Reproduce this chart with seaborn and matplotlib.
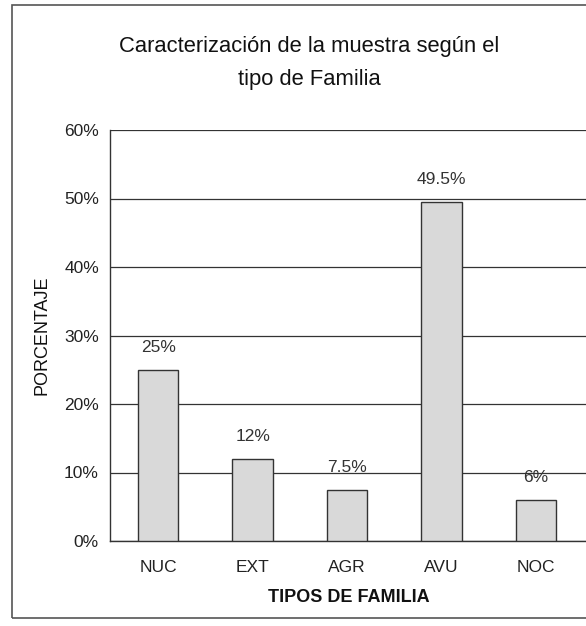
import matplotlib
matplotlib.use('Agg')
import matplotlib.pyplot as plt
import seaborn as sns
import pandas as pd
from matplotlib.patches import Rectangle
from matplotlib.ticker import FixedLocator

tipos = ['NUC', 'EXT', 'AGR', 'AVU', 'NOC']
porcentaje = [25, 12, 7.5, 49.5, 6]
etiquetas = ['25%', '12%', '7.5%', '49.5%', '6%']
yticks = [0, 10, 20, 30, 40, 50, 60]

sns.set_style('white')
plt.rcParams['font.family'] = ['Liberation Sans', 'DejaVu Sans']

df = pd.DataFrame({'tipo': tipos, 'pct': porcentaje})

fig = plt.figure(figsize=(5.86, 6.26), dpi=100)
ax = fig.add_axes([110 / 586, 85 / 626, 478 / 586, 411 / 626])

sns.barplot(data=df, x='tipo', y='pct', color='#d9d9d9', edgecolor='#333333',
            linewidth=1, width=0.43, ax=ax, saturation=1, zorder=3)

ax.set_ylim(0, 60)
ax.set_xlim(-0.51, 4.55)
ax.set_yticks(yticks)
ax.set_yticklabels([f'{v}%' for v in yticks])
ax.yaxis.grid(True, color='#333333', linewidth=0.9, zorder=0)
ax.set_axisbelow(True)

for s in ['top', 'right']:
    ax.spines[s].set_visible(False)
for s in ['left', 'bottom']:
    ax.spines[s].set_color('#333333')
    ax.spines[s].set_linewidth(1)

ax.tick_params(axis='x', length=0, pad=14, labelsize=12.5, labelcolor='#222222')
ax.xaxis.set_minor_locator(FixedLocator([0.5, 1.5, 2.5, 3.5]))
ax.tick_params(axis='x', which='minor', length=5, color='#333333', direction='out')
ax.tick_params(axis='y', length=5, color='#333333', direction='out', labelsize=12.5,
               labelcolor='#222222', pad=3)

for i, (v, lab) in enumerate(zip(porcentaje, etiquetas)):
    ax.text(i, v + 2.2, lab, ha='center', va='bottom', fontsize=12.5, color='#333333')

ax.set_xlabel('TIPOS DE FAMILIA', fontsize=13, fontweight='bold', labelpad=10,
              color='#111111')
ax.set_ylabel('PORCENTAJE', fontsize=13, labelpad=10, color='#111111')

fig.text(309 / 586, 1 - 63 / 626, 'Caracterización de la muestra según el\ntipo de Familia',
         ha='center', va='center', fontsize=15.8, color='#111111', linespacing=1.7)

fig.patches.append(Rectangle((12 / 586, 8 / 626), 1.1, 613 / 626, transform=fig.transFigure,
                             fill=False, edgecolor='#555555', linewidth=1.2))

fig.savefig('out.png', dpi=100)
